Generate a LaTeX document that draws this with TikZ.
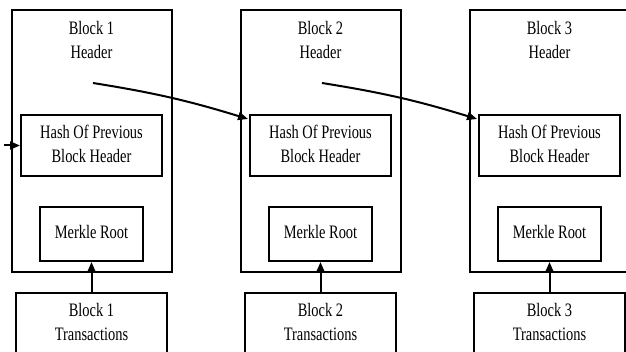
\documentclass[tikz,border=0pt]{standalone}
\usepackage{fontspec}
\setmainfont{Liberation Serif}
\usepackage{graphicx}
\usetikzlibrary{arrows.meta}
\newcommand{\sqz}[1]{\scalebox{0.76}[1]{\begin{tabular}{@{}c@{}}#1\end{tabular}}}
\begin{document}
\begin{tikzpicture}[x=1pt,y=-1pt,
  every node/.style={font=\fontsize{19}{24}\selectfont, inner sep=0pt},
  lw/.style={line width=2pt},
  outerbox/.style={draw, lw, minimum width=160pt, minimum height=262pt},
  hashbox/.style={draw, lw, minimum width=141pt, minimum height=61pt},
  merklebox/.style={draw, lw, minimum width=103pt, minimum height=54pt},
  txbox/.style={draw, lw, minimum width=151pt, minimum height=61pt},
  arr/.style={lw, -{Triangle[length=10pt,width=8pt]}}]
\useasboundingbox (0,0) rectangle (626,352);
\clip (0,0) rectangle (626,352);
\fill[white] (0,0) rectangle (626,352);
\foreach \i/\cx in {1/91.5, 2/320.5, 3/549.5} {
  \node[outerbox] (b\i) at (\cx,141) {};
  \node (hd\i) at (\cx,41.5) {\sqz{Block \i\\Header}};
  \node[hashbox] (hash\i) at (\cx,145.5) {\sqz{Hash Of Previous\\Block Header}};
  \node[merklebox] (m\i) at (\cx,234) {\sqz{Merkle Root}};
  \node[txbox] (t\i) at (\cx,323.5) {\sqz{Block \i\\Transactions}};
  \draw[arr] (t\i.north) -- (m\i.south);
}
\coordinate (src1) at (93,83);
\coordinate (src2) at (322,83);
\coordinate (in1) at (4,145.5);
\draw[arr] (src1) to[bend left=4] ([xshift=-1pt,yshift=-5pt]hash2.north west);
\draw[arr] (src2) to[bend left=4] ([xshift=-1pt,yshift=-5pt]hash3.north west);
\draw[arr] (in1) -- (hash1.west);
\end{tikzpicture}
\end{document}
